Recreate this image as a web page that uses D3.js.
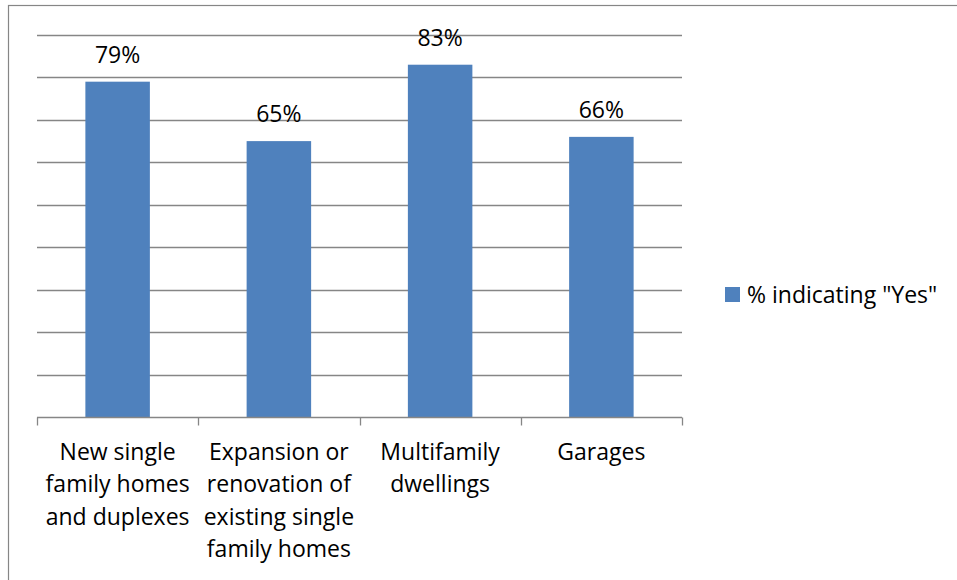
<!DOCTYPE html>
<html>
<head>
<meta charset="utf-8">
<script src="https://cdn.jsdelivr.net/npm/d3@7"></script>
<style>
  html, body { margin: 0; padding: 0; background: #fff; }
  svg { display: block; }
  text { font-family: "Open Sans", sans-serif; fill: #000; }
</style>
</head>
<body>
<svg id="chart" width="957" height="580"></svg>
<script>
// Share of respondents answering "Yes", by building type
const categories = [
  ["New single", "family homes", "and duplexes"],
  ["Expansion or", "renovation of", "existing single", "family homes"],
  ["Multifamily", "dwellings"],
  ["Garages"]
];
const values = [79, 65, 83, 66];
const seriesName = '% indicating "Yes"';
const gridTicks = [10, 20, 30, 40, 50, 60, 70, 80, 90];

const svg = d3.select("#chart");
const W = 957, H = 580;
const plot = { left: 37, right: 682, top: 35, bottom: 417 };
const barColor = "#4F81BD";
const lineColor = "#868686";

// outer frame (open to the right and bottom edge)
svg.append("rect")
  .attr("x", 8.5).attr("y", 5.5)
  .attr("width", W + 10).attr("height", H + 10)
  .attr("fill", "none").attr("stroke", lineColor).attr("stroke-width", 1.2);

const idx = d3.range(values.length);
const x = d3.scaleBand().domain(idx).range([plot.left, plot.right]).paddingInner(0).paddingOuter(0);
const y = d3.scaleLinear().domain([0, 90]).range([plot.bottom, plot.top]);

// horizontal gridlines
svg.append("g").selectAll("line").data(gridTicks).join("line")
  .attr("x1", plot.left).attr("x2", plot.right)
  .attr("y1", d => Math.round(y(d)) + 0.5).attr("y2", d => Math.round(y(d)) + 0.5)
  .attr("stroke", lineColor).attr("stroke-width", 1.3);

// bars: 40% of each category slot
const bw = x.bandwidth() * 0.4;
svg.append("g").selectAll("rect").data(values).join("rect")
  .attr("x", (d, i) => x(i) + (x.bandwidth() - bw) / 2)
  .attr("y", d => y(d))
  .attr("width", bw)
  .attr("height", d => y(0) - y(d))
  .attr("fill", barColor);

// category axis with boundary ticks
const axisY = Math.round(y(0)) + 0.5;
const ax = svg.append("g");
ax.append("line")
  .attr("x1", plot.left).attr("x2", plot.right)
  .attr("y1", axisY).attr("y2", axisY)
  .attr("stroke", lineColor).attr("stroke-width", 1.3);
const boundaries = idx.map(i => x(i)).concat([plot.right]);
ax.selectAll("line.tick").data(boundaries).join("line")
  .attr("class", "tick")
  .attr("x1", d => Math.round(d) + 0.5).attr("x2", d => Math.round(d) + 0.5)
  .attr("y1", axisY).attr("y2", axisY + 8)
  .attr("stroke", lineColor).attr("stroke-width", 1.3);

// category labels
const labelG = svg.append("g");
categories.forEach((lines, i) => {
  const t = labelG.append("text")
    .attr("text-anchor", "middle")
    .attr("font-size", 23);
  lines.forEach((ln, j) => {
    t.append("tspan")
      .attr("x", x(i) + x.bandwidth() / 2)
      .attr("y", 460 + j * 32.3)
      .text(ln);
  });
});

// value labels above bars
svg.append("g").selectAll("text").data(values).join("text")
  .attr("x", (d, i) => x(i) + x.bandwidth() / 2)
  .attr("y", d => y(d) - 19)
  .attr("text-anchor", "middle")
  .attr("font-size", 23)
  .text(d => d + "%");

// legend
const lg = svg.append("g");
lg.append("rect")
  .attr("x", 725).attr("y", 287).attr("width", 15).attr("height", 15)
  .attr("fill", barColor);
lg.append("text")
  .attr("x", 747).attr("y", 303)
  .attr("font-size", 23)
  .text(seriesName);
</script>
</body>
</html>
